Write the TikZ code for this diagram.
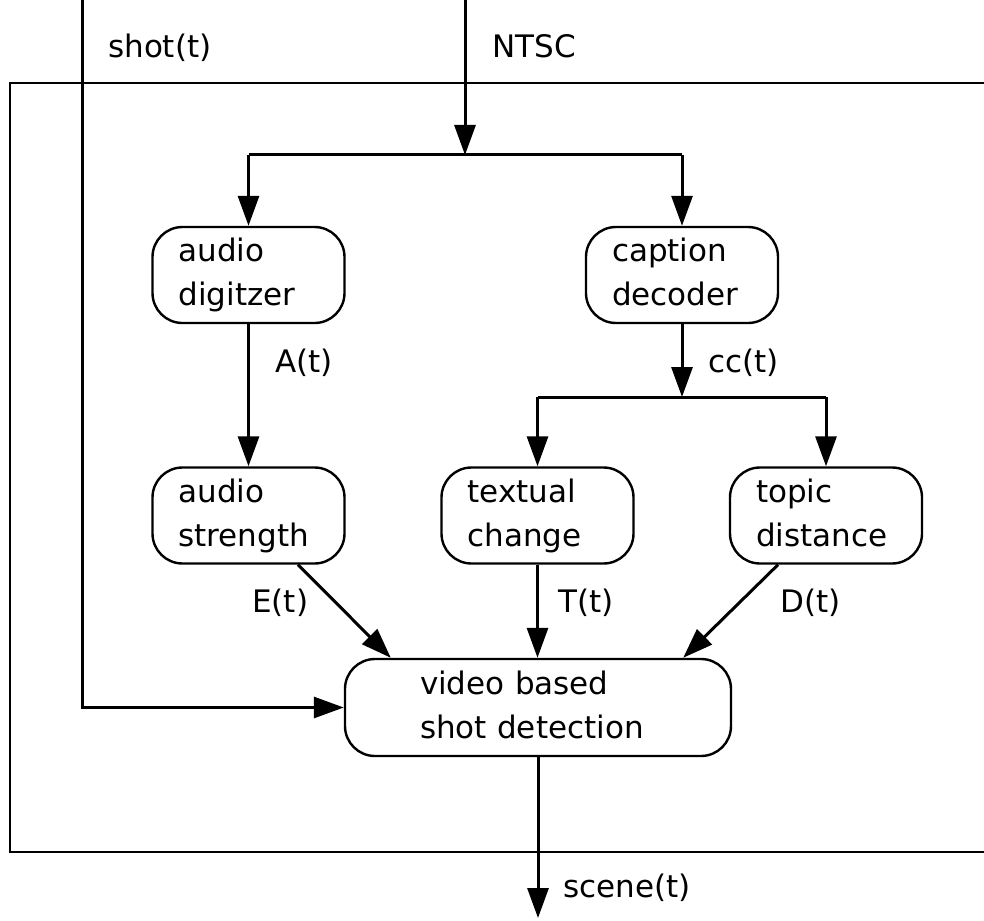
\documentclass[tikz,border=0pt]{standalone}
\usepackage{fontspec}
\setmainfont{DejaVu Sans}
\usetikzlibrary{arrows.meta,calc}

% two strutted lines so every box sets its baselines alike
\newcommand{\blocktext}[2]{\strut #1\\\strut #2}

\begin{document}
\begin{tikzpicture}[x=1pt,y=-1pt,
  every node/.style={font=\fontsize{31}{44}\selectfont},
  block/.style={draw, line width=2.4pt, rounded corners=30pt,
    text width=140pt, align=left, inner xsep=26pt, inner ysep=0pt,
    minimum height=96pt},
  bigblock/.style={block, text width=236pt, inner xsep=75pt, minimum height=97pt},
  lbl/.style={inner sep=0pt, anchor=base west},
  wire/.style={line width=3pt},
  arr/.style={wire, -{Triangle[length=30pt,width=21pt]}},
  frame/.style={line width=2.4pt}]

\clip (0,0) rectangle (984,920);

% enclosing system boundary (runs off the right edge)
\draw[frame] (10,83) rectangle (1010,852);

% processing blocks
\node[block] (ad) at (248.5,275) {\blocktext{audio}{digitzer}};
\node[block] (cd) at (682,275) {\blocktext{caption}{decoder}};
\node[block] (as) at (248.5,515.5) {\blocktext{audio}{strength}};
\node[block] (tc) at (537.5,515.5) {\blocktext{textual}{change}};
\node[block] (td) at (826,515.5) {\blocktext{topic}{distance}};
\node[bigblock] (vid) at (538,707.5) {\blocktext{video based}{shot detection}};

% external inputs and output
\coordinate (shotin) at (82,0);
\coordinate (ntscin) at (465,0);
\coordinate (split1) at (465,155);
\coordinate (split2) at (682,397);
\coordinate (sceneout) at (538,918);

% NTSC feed and its split
\draw[arr] (ntscin) -- (split1);
\draw[wire] (ad.north |- split1) -- (cd.north |- split1);
\draw[arr] (ad.north |- split1) -- (ad.north);
\draw[arr] (cd.north |- split1) -- (cd.north);

% audio path
\draw[arr] (ad.south) -- (as.north);

% caption path and its split
\draw[arr] (cd.south) -- (split2);
\draw[wire] (tc.north |- split2) -- (td.north |- split2);
\draw[arr] (tc.north |- split2) -- (tc.north);
\draw[arr] (td.north |- split2) -- (td.north);

% features into the shot detector
\draw[arr] ($(as.south)+(49.5,0)$) -- ($(vid.north west)+(47,0)$);
\draw[arr] (tc.south) -- (tc.south |- vid.north);
\draw[arr] ($(td.south)+(-48,0)$) -- ($(vid.north east)+(-49,0)$);

% shot boundaries in, scenes out
\draw[arr] (shotin) |- (vid.west);
\draw[arr] (vid.south) -- (sceneout);

% signal labels
\node[lbl] at (108,58) {shot(t)};
\node[lbl] at (492,58) {NTSC};
\node[lbl] at (275,372) {A(t)};
\node[lbl] at (708,372) {cc(t)};
\node[lbl] at (252,612) {E(t)};
\node[lbl] at (558,612) {T(t)};
\node[lbl] at (780,612) {D(t)};
\node[lbl] at (563,897) {scene(t)};
\end{tikzpicture}
\end{document}
